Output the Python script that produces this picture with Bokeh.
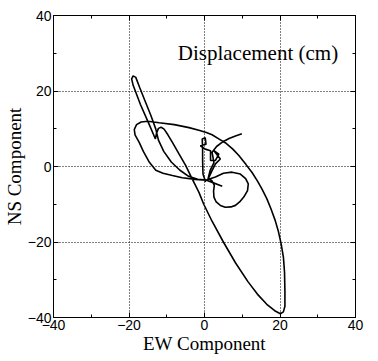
from bokeh.plotting import figure
from bokeh.models import FixedTicker, LinearAxis, Label, Range1d
from bokeh.embed import file_html
from bokeh.resources import INLINE

# Displacement orbit (cm), in drawing order
ew = [0.3, -0.4, -0.5, -0.5, -0.6, 0.2, 0.4, -1.1, 0.2, 1.6, 1.6, 2.9, 3.8, 2.5, 4.2, 2.9, 2.0, 1.2, 0.7, 4.7, 0.5,
      -2.4, -5.9, -8.5, -11.0, -12.9, -14.6, -16.2, -17.3, -18.4, -18.6, -18.0, -16.8, -15.0, -12.0, -8.0, -4.1, -1.5,
      0.5, 2.0, 4.0, 5.5, 7.5, 9.1, 11.0, 12.6, 14.0, 15.2, 16.5, 17.6, 18.7, 19.6, 20.3, 20.9, 21.2, 21.3, 21.3, 20.9, 20.1,
      18.6, 16.5, 14.0, 11.5, 8.2, 5.0, 2.0, -0.2, -1.5, -3.3, -5.0, -6.8, -8.5, -9.7, -10.7, -11.5, -12.2, -12.7, -13.0,
      -14.8, -17.0, -18.9, -19.3, -18.9, -18.2, -17.2, -15.8, -14.2, -12.9,
      -12.2, -10.8, -8.8, -6.5, -4.2, -1.8, 0.5,
      2.9, 5.0, 7.3, 9.5, 10.9, 11.6, 11.4, 10.4, 9.3, 8.2, 7.0, 5.5, 4.2, 3.1, 2.5, 2.4, 2.6, 2.0, 1.0,
      1.5, 2.5, 2.0, 3.2, 4.8, 6.5, 8.2, 9.9]
ns = [-4.1, -2.0, 1.6, 4.5, 7.3, 7.6, 5.9, 5.5, 4.6, 4.2, 1.6, 1.6, 3.3, 4.2, 2.0, 0.7, -1.1, -2.8, -3.7, -5.2, -3.6,
      -3.4, -3.0, -2.4, -1.8, -1.0, 1.1, 4.0, 6.4, 8.4, 9.8, 11.1, 11.8, 12.0, 11.6, 11.1, 10.3, 9.6,
      9.0, 8.4, 7.2, 6.3, 4.6, 2.9, 0.5, -1.6, -3.8, -5.9, -8.5, -11.2, -14.2, -17.3, -20.5, -24.0, -28.0, -33.0, -37.0, -38.5, -39.0,
      -38.2, -36.5, -33.8, -30.5, -25.5, -20.0, -14.5, -10.0, -6.8, -3.2, 0.3, 3.4, 6.4, 8.4, 9.9, 10.4, 10.1, 8.8, 7.3,
      11.5, 16.5, 21.5, 23.2, 24.0, 23.6, 21.0, 17.5, 13.5, 9.9,
      7.0, 4.0, 1.2, -1.0, -2.6, -3.4, -3.6,
      -2.8, -1.8, -1.5, -2.0, -3.2, -4.6, -6.4, -8.1, -9.4, -10.3, -10.7, -10.8, -10.3, -9.4, -8.1, -6.5, -5.0, -3.8, -3.0,
      -1.0, 1.0, 3.8, 5.3, 6.5, 7.4, 8.1, 8.7]

major_ticks = [-40, -20, 0, 20, 40]
minor_ticks = [-30, -10, 10, 30]
title_text = "Displacement (cm)"
x_label = "EW Component"
y_label = "NS Component"

p = figure(frame_width=302, frame_height=302, output_backend="svg", toolbar_location=None,
           x_range=Range1d(-40, 40), y_range=Range1d(-40, 40),
           min_border_left=52, min_border_right=24, min_border_top=15, min_border_bottom=44)
p.background_fill_color = "white"
p.border_fill_color = "white"
p.outline_line_color = "black"
p.outline_line_width = 1

for ax in (p.xaxis[0], p.yaxis[0]):
    ax.ticker = FixedTicker(ticks=major_ticks, minor_ticks=minor_ticks)
    ax.major_tick_in = 5
    ax.major_tick_out = 0
    ax.minor_tick_in = 3
    ax.minor_tick_out = 0
    ax.axis_line_color = "black"
    ax.major_tick_line_color = "black"
    ax.minor_tick_line_color = "black"
    ax.major_label_text_font = "Liberation Sans"
    ax.major_label_text_font_size = "14px"
    ax.major_label_text_color = "black"
    ax.major_label_standoff = 2
    ax.axis_label_text_font = "Liberation Serif"
    ax.axis_label_text_font_size = "19px"
    ax.axis_label_text_font_style = "normal"
    ax.axis_label_text_color = "black"
    ax.axis_label_standoff = 0

p.xaxis[0].axis_label = x_label
p.yaxis[0].axis_label = y_label

for loc in ("right", "above"):
    ax = LinearAxis(ticker=FixedTicker(ticks=major_ticks, minor_ticks=minor_ticks))
    ax.major_tick_in = 5
    ax.major_tick_out = 0
    ax.minor_tick_in = 3
    ax.minor_tick_out = 0
    ax.axis_line_color = "black"
    ax.major_label_overrides = {t: "" for t in major_ticks}
    ax.major_label_standoff = 0
    p.add_layout(ax, loc)

for g in (p.xgrid[0], p.ygrid[0]):
    g.ticker = FixedTicker(ticks=major_ticks)
    g.grid_line_color = "black"
    g.grid_line_dash = "1 2"
    g.grid_line_width = 1

p.line(ew, ns, line_color="black", line_width=1.6)

p.add_layout(Label(x=35.4, y=30, text=title_text, text_align="right", text_baseline="alphabetic",
                   text_font="Liberation Serif", text_font_size="21px", text_color="black"))

open("out.html", "w").write(file_html(p, INLINE))
